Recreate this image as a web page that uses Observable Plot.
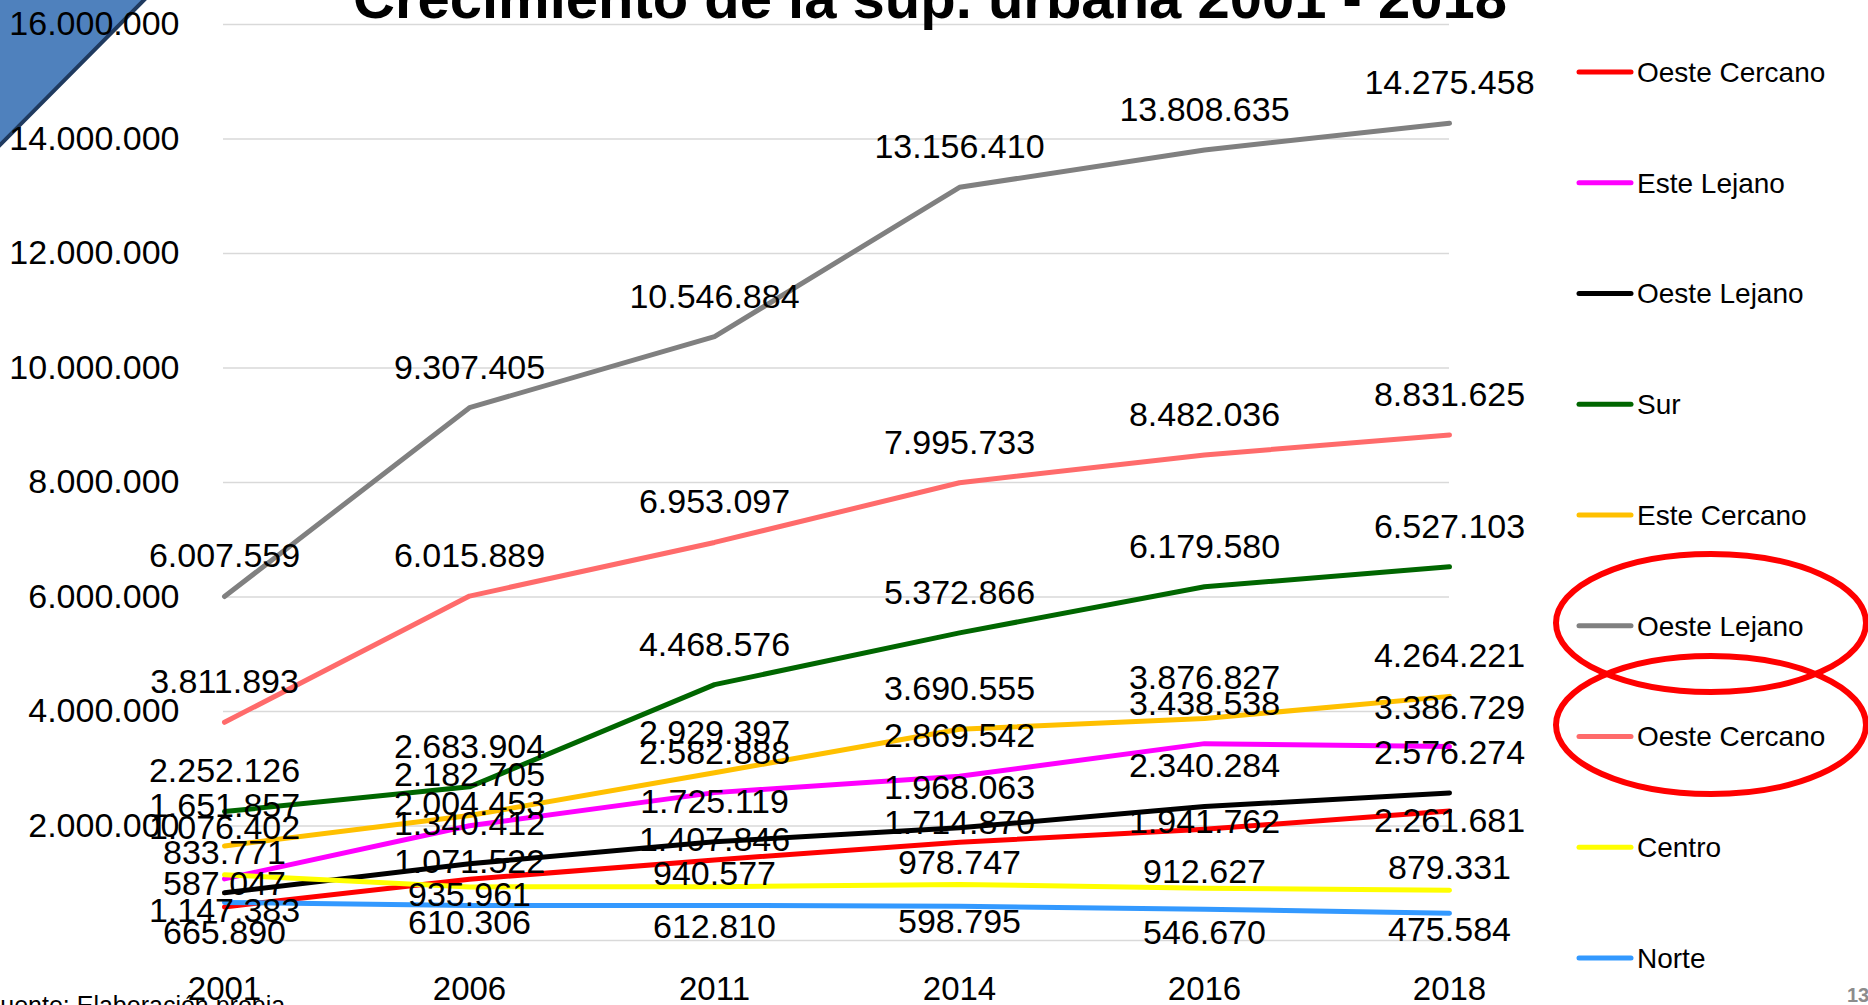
<!DOCTYPE html>
<html>
<head>
<meta charset="utf-8">
<script src="https://cdn.jsdelivr.net/npm/d3@7"></script>
<script src="https://cdn.jsdelivr.net/npm/@observablehq/plot@0.6"></script>
<style>
html, body { margin: 0; padding: 0; background: #fff; overflow: hidden; }
#wrap { position: relative; width: 1868px; height: 1005px; overflow: hidden; font-family: "Liberation Sans", Arial, sans-serif; }
#wrap > svg { position: absolute; left: 0; top: 0; }
</style>
</head>
<body>
<div id="wrap"></div>
<script>
// ---- Data ----
const years = ["2001", "2006", "2011", "2014", "2016", "2018"];
const gridTicks = [0, 2000000, 4000000, 6000000, 8000000, 10000000, 12000000, 14000000, 16000000];
const labelTicks = [2000000, 4000000, 6000000, 8000000, 10000000, 12000000, 14000000, 16000000];

const seriesNames = ["Oeste Cercano", "Este Lejano", "Oeste Lejano", "Sur", "Este Cercano", "Oeste Lejano", "Oeste Cercano", "Centro", "Norte"];

const oesteCercano   = [587047, 1071522, 1407846, 1714870, 1941762, 2261681];
const esteLejano     = [1076402, 2004453, 2582888, 2869542, 3438538, 3386729];
const oesteLejano    = [833771, 1340412, 1725119, 1968063, 2340284, 2576274];
const sur            = [2252126, 2683904, 4468576, 5372866, 6179580, 6527103];
const esteCercano    = [1651857, 2182705, 2929397, 3690555, 3876827, 4264221];
const oesteLejano2   = [6007559, 9307405, 10546884, 13156410, 13808635, 14275458];
const oesteCercano2  = [3811893, 6015889, 6953097, 7995733, 8482036, 8831625];
const centro         = [1147383, 935961, 940577, 978747, 912627, 879331];
const norte          = [665890, 610306, 612810, 598795, 546670, 475584];

const seriesValues = [oesteCercano, esteLejano, oesteLejano, sur, esteCercano, oesteLejano2, oesteCercano2, centro, norte];

// ---- Styles (label nudges, px) ----
const seriesColors = ["#FF0000", "#FF00FF", "#000000", "#006600", "#FFC000", "#808080", "#FF6B6B", "#FFFF00", "#3399FF"];
const labelNudge = [
  [-23, -17, -20, -19, -7, 10],
  [-51, -22, -40, -40, -40, -39],
  [-40, -40, -40, -40, -40, -40],
  [-40, -40, -40, -40, -40, -40],
  [-40, -40, -40, -40, -40, -40],
  [-40, -40, -40, -40, -40, -40],
  [-40, -40, -40, -40, -40, -40],
  [36, 8, -13, -21, -16, -22],
  [31, 18, 22, 16, 24, 17]
];

const fmt = v => d3.format(",")(v).replace(/,/g, ".");

const series = seriesNames.map((name, i) => ({
  name,
  color: seriesColors[i],
  rows: years.map((year, j) => ({ year, value: seriesValues[i][j], nudge: labelNudge[i][j] }))
}));

const wrap = document.getElementById("wrap");
const NS = "http://www.w3.org/2000/svg";

// Decorative corner triangle (behind chart)
const deco = document.createElementNS(NS, "svg");
deco.setAttribute("width", 1868);
deco.setAttribute("height", 1005);
deco.innerHTML = `<polygon points="-5,-5 149,-5 -5,150" fill="#4F81BD" stroke="#1F3A5F" stroke-width="4"/>`;
wrap.appendChild(deco);

// Labels: one text mark per distinct nudge so each keeps a constant dy
const labelMarks = [];
series.forEach(s => {
  const nudges = Array.from(new Set(s.rows.map(r => r.nudge)));
  nudges.forEach(n => {
    labelMarks.push(Plot.text(s.rows.filter(r => r.nudge === n), {
      x: "year", y: "value", text: d => fmt(d.value), dy: n,
      fontSize: 34, fill: "#000"
    }));
  });
});

const chart = Plot.plot({
  width: 1868,
  height: 1005,
  marginLeft: 223,
  marginRight: 419,
  marginTop: 24,
  marginBottom: 65,
  style: { fontFamily: "'Liberation Sans', Arial, sans-serif", fontSize: "34px", color: "#000", background: "transparent", overflow: "visible" },
  x: { type: "point", domain: years, padding: 0, label: null },
  y: { domain: [0, 16000000], label: null },
  marks: [
    Plot.gridY({ ticks: gridTicks, stroke: "#D9D9D9", strokeOpacity: 1, strokeWidth: 1.5 }),
    Plot.axisY({ ticks: labelTicks, tickSize: 0, tickPadding: 44, tickFormat: fmt, fontSize: 34, label: null }),
    Plot.axisX({ tickSize: 0, tickPadding: 36, fontSize: 33, label: null }),
    ...series.map(s => Plot.line(s.rows, {
      x: "year", y: "value", stroke: s.color, strokeWidth: 5,
      strokeLinecap: "round", strokeLinejoin: "round"
    })),
    ...labelMarks
  ]
});
wrap.appendChild(chart);

// Overlay: title, legend, highlight ellipses, footer
const over = document.createElementNS(NS, "svg");
over.setAttribute("width", 1868);
over.setAttribute("height", 1005);
over.setAttribute("font-family", "'Liberation Sans', Arial, sans-serif");
let html = "";
html += `<text x="353" y="18" font-size="58" font-weight="bold" fill="#000">Crecimiento de la sup. urbana 2001 - 2018</text>`;
const legendY0 = 72, legendStep = 110.75;
series.forEach((s, i) => {
  const y = legendY0 + i * legendStep;
  html += `<line x1="1579" x2="1631" y1="${y}" y2="${y}" stroke="${s.color}" stroke-width="5" stroke-linecap="round"/>`;
  html += `<text x="1637" y="${y}" dy="0.35em" font-size="28" fill="#000">${s.name}</text>`;
});
html += `<ellipse cx="1711" cy="623" rx="155" ry="69" fill="none" stroke="#FF0000" stroke-width="6"/>`;
html += `<ellipse cx="1711" cy="725" rx="155" ry="69" fill="none" stroke="#FF0000" stroke-width="6"/>`;
html += `<text x="-15" y="1014" font-size="25" fill="#000">Fuente: Elaboración propia</text>`;
html += `<text x="1847" y="1002" font-size="20" font-weight="bold" fill="#8C8C8C">13</text>`;
over.innerHTML = html;
wrap.appendChild(over);
</script>
</body>
</html>
